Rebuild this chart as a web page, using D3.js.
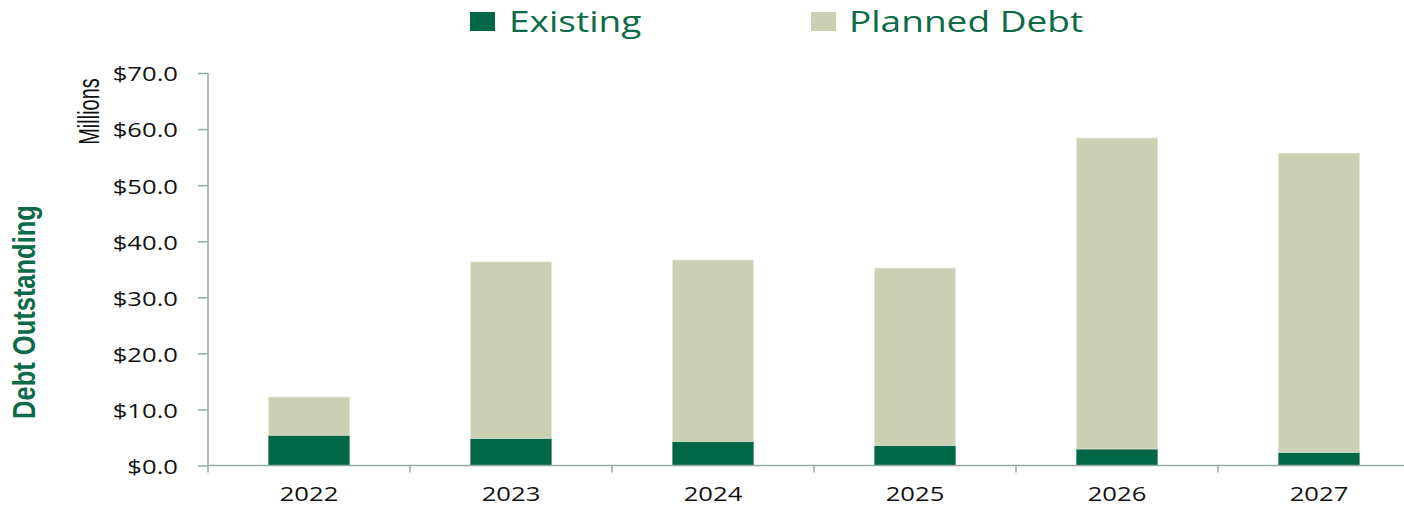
<!DOCTYPE html>
<html>
<head>
<meta charset="utf-8">
<script src="https://cdn.jsdelivr.net/npm/d3@7"></script>
<style>
  html, body { margin: 0; padding: 0; background: #ffffff; }
  svg { display: block; }
</style>
</head>
<body>
<svg id="chart" width="1404" height="507"></svg>
<script>
// Debt outstanding by year, in millions of dollars
const years = ["2022", "2023", "2024", "2025", "2026", "2027"];
const existing = [5.4, 4.85, 4.3, 3.6, 2.95, 2.35];
const planned = [6.8, 31.45, 32.35, 31.6, 55.45, 53.35];
const yTicks = [0, 10, 20, 30, 40, 50, 60, 70];
const seriesNames = ["Existing", "Planned Debt"];

const colors = { existing: "#006747", planned: "#cbcfb4" };
const axisColor = "#95aaa0";
const textGreen = "#0b6a47";

const svg = d3.select("#chart");

const x = d3.scaleBand()
  .domain(years)
  .range([208, 1420])
  .paddingInner(0.6)
  .paddingOuter(0.3);

const y = d3.scaleLinear().domain([0, 70]).range([465.5, 73]);

// stacked table built from the series arrays
const table = years.map((yr, i) => ({ year: yr, existing: existing[i], planned: planned[i] }));
const stacked = d3.stack().keys(["existing", "planned"])(table);

svg.append("g")
  .selectAll("g")
  .data(stacked)
  .join("g")
  .attr("fill", d => colors[d.key])
  .attr("stroke", d => d.key === "planned" ? "#e4e6d6" : "#5f927a")
  .attr("stroke-width", 0.8)
  .selectAll("rect")
  .data(d => d)
  .join("rect")
  .attr("x", d => x(d.data.year))
  .attr("width", x.bandwidth())
  .attr("y", d => y(d[1]))
  .attr("height", d => y(d[0]) - y(d[1]));

// y axis
const yAxis = svg.append("g")
  .attr("transform", "translate(208,0)")
  .call(d3.axisLeft(y).tickValues(yTicks).tickFormat(d3.format("$.1f")).tickSize(10).tickSizeOuter(0));
yAxis.select(".domain").remove();
yAxis.append("line")
  .attr("x1", 0).attr("x2", 0)
  .attr("y1", y(70)).attr("y2", y(0) + 7)
  .attr("stroke", axisColor).attr("stroke-width", 1.5);
yAxis.selectAll(".tick line").attr("stroke", axisColor).attr("stroke-width", 1.5);
yAxis.selectAll(".tick text")
  .attr("x", 0)
  .attr("dy", "0.36em")
  .attr("transform", "translate(-30,0.7) scale(1.28,1)")
  .attr("text-anchor", "end")
  .attr("fill", "#111")
  .style("font-family", "'Open Sans', sans-serif")
  .style("font-size", "20px");

// x axis with ticks between categories
const xAxis = svg.append("g")
  .attr("transform", `translate(0,${y(0)})`)
  .call(d3.axisBottom(x).tickSize(0).tickSizeOuter(0));
xAxis.select(".domain").remove();
xAxis.append("line")
  .attr("x1", 208).attr("x2", 1404)
  .attr("y1", 0).attr("y2", 0)
  .attr("stroke", axisColor).attr("stroke-width", 1.5);
const gap = x.step() * x.paddingInner() / 2;
xAxis.selectAll(".divider")
  .data(years.slice(1))
  .join("line")
  .attr("class", "divider")
  .attr("x1", d => x(d) - gap).attr("x2", d => x(d) - gap)
  .attr("y1", 0).attr("y2", 7)
  .attr("stroke", axisColor).attr("stroke-width", 1.5);
xAxis.selectAll(".tick text")
  .attr("y", 36)
  .attr("dy", 0)
  .attr("transform", "scale(1.28,1)")
  .attr("text-anchor", "middle")
  .attr("fill", "#111")
  .style("font-family", "'Open Sans', sans-serif")
  .style("font-size", "20px");

// unit label
svg.append("text")
  .attr("transform", "translate(99,111.5) scale(1.45,1) rotate(-90)")
  .attr("text-anchor", "middle")
  .attr("fill", "#111")
  .style("font-family", "'Liberation Sans', Arial, sans-serif")
  .style("font-size", "20px")
  .text("Millions");

// axis title
svg.append("text")
  .attr("transform", "translate(35,312) scale(1.2,1) rotate(-90)")
  .attr("text-anchor", "middle")
  .attr("fill", textGreen)
  .style("font-family", "'Liberation Sans', Arial, sans-serif")
  .style("font-weight", "bold")
  .style("font-size", "25.5px")
  .text("Debt Outstanding");

// legend
const legendItems = [
  { name: seriesNames[0], color: colors.existing, sx: 470, tx: 509 },
  { name: seriesNames[1], color: colors.planned, sx: 811, tx: 849 }
];
const legend = svg.append("g")
  .selectAll("g")
  .data(legendItems)
  .join("g");
legend.append("rect")
  .attr("x", d => d.sx).attr("y", 12)
  .attr("width", 25).attr("height", 19)
  .attr("fill", d => d.color);
legend.append("text")
  .attr("transform", d => `translate(${d.tx},32) scale(1.235,1)`)
  .attr("fill", textGreen)
  .style("font-family", "'Open Sans', sans-serif")
  .style("font-size", "30px")
  .text(d => d.name);
</script>
</body>
</html>
